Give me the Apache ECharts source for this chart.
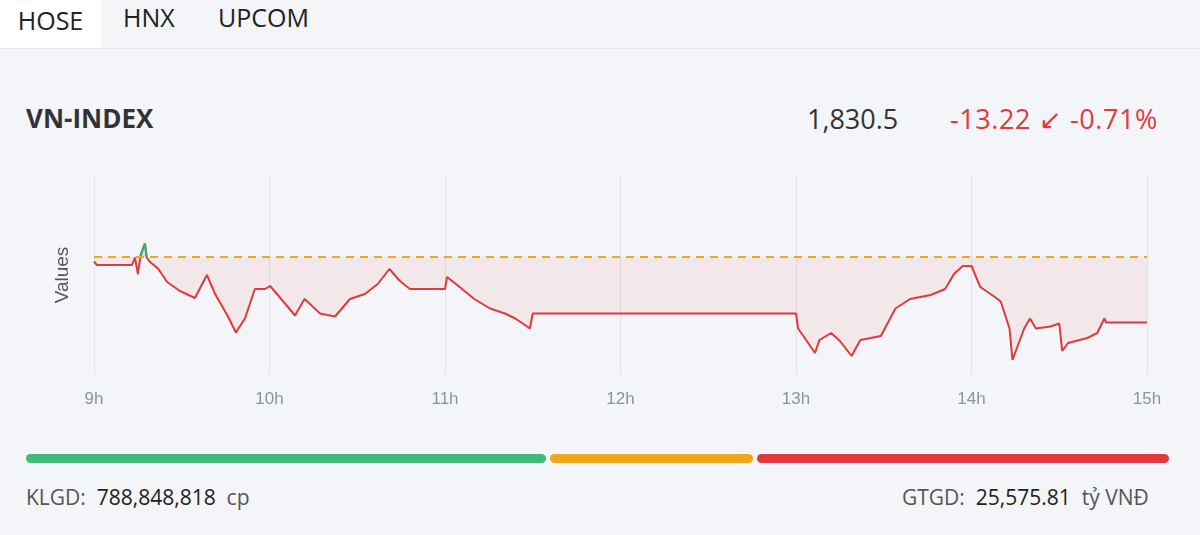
<!DOCTYPE html>
<html><head><meta charset="utf-8">
<script src="https://cdn.jsdelivr.net/npm/echarts@6/dist/echarts.min.js"></script>
<style>
body{margin:0;width:1200px;height:535px;background:#f3f5f8;font-family:"Open Sans","Noto Sans",sans-serif;position:relative;overflow:hidden}
.tabs{position:absolute;top:0;left:0;width:1200px;height:48px;border-bottom:1px solid #e2e6ec}
.tab{position:absolute;top:0;height:48px;line-height:34px;font-size:25px;color:#222}
.hose{left:0;width:101px;background:#fff;text-align:center;line-height:40px}
.title{position:absolute;left:26px;top:100px;font-size:26px;font-weight:700;color:#333}
.price{position:absolute;left:807px;top:100px;font-size:27px;color:#333}
.chg{position:absolute;left:950px;top:100px;font-size:27px;color:#e0393e;letter-spacing:0.6px}
.bar{position:absolute;top:454px;height:9px;border-radius:5px}
.foot{position:absolute;top:483px;font-size:21px;color:#555}
.foot b{font-weight:400;color:#222}
#c{position:absolute;left:0;top:150px;width:1200px;height:270px}
</style></head><body>
<div class="tabs"><div class="tab hose">HOSE</div><div class="tab" style="left:123px">HNX</div><div class="tab" style="left:218px">UPCOM</div></div>
<div class="title">VN-INDEX</div>
<div class="price">1,830.5</div>
<div class="chg">-13.22 ↙ -0.71%</div>
<div id="c"></div>
<div class="bar" style="left:26px;width:520px;background:#3dbb77"></div>
<div class="bar" style="left:550px;width:203px;background:#f0a61c"></div>
<div class="bar" style="left:757px;width:412px;background:#e0393e"></div>
<div class="foot" style="left:26px">KLGD:&nbsp; <b>788,848,818</b>&nbsp; cp</div>
<div class="foot" style="left:902px">GTGD:&nbsp; <b>25,575.81</b>&nbsp; tỷ VNĐ</div>
<script>
const refValue = 1843.72;
const minutes = [0,1,13,14,15,16,17.4,18,19,22,25,29.4,34.5,38.6,41.4,45.8,48.5,51.6,55,58.5,60.2,65.3,68.7,72,77.3,82.4,87.5,92.6,97,101,104.6,108,113,120,120.7,125,130,135.4,140.5,144,146.6,149,150,240,240.7,243,246.5,248,252,255,259,262,269,274,279,286,291,294,297,300,303,308,310,313,314,318,320,322,327,330,331,333,339.6,343,345.4,346,360];
const values = [1842.7,1842.0,1842.0,1843.5,1840.2,1844.1,1846.3,1843.5,1842.7,1841.2,1838.6,1836.8,1835.4,1840.0,1836.2,1831.7,1828.5,1831.3,1837.2,1837.2,1837.8,1834.3,1831.9,1835.2,1832.3,1831.7,1835.2,1836.2,1838.2,1841.2,1838.8,1837.2,1837.2,1837.2,1839.6,1837.6,1835.2,1833.3,1832.3,1831.3,1830.3,1829.3,1832.3,1832.3,1829.3,1827.4,1824.4,1827.0,1828.4,1826.8,1823.8,1827.0,1827.8,1833.3,1835.2,1836.0,1837.2,1840.2,1841.8,1841.8,1837.6,1835.6,1834.7,1829.3,1823.0,1829.3,1831.3,1829.3,1829.7,1830.3,1824.8,1826.4,1827.4,1828.4,1831.3,1830.5,1830.5];
const greenMinutes = [15.8,16,17.4,18];
const greenValues = [1843.72,1844.1,1846.3,1843.72];
const tickLabels = ['9h','10h','11h','12h','13h','14h','15h'];
const data = minutes.map((m,i)=>[m,values[i]]);
const gdata = greenMinutes.map((m,i)=>[m,greenValues[i]]);
const ch = echarts.init(document.getElementById('c'));
ch.setOption({
  animation:false,
  grid:{left:94,right:53,top:25,bottom:45},
  xAxis:{type:'value',min:0,max:360,interval:60,
    axisLabel:{formatter:v=>tickLabels[v/60],color:'#8a93a3',fontSize:17,margin:16},
    axisLine:{show:false},axisTick:{show:false},
    splitLine:{show:true,lineStyle:{color:'#dfe3ea'}}},
  yAxis:{type:'value',min:1820,max:1860,name:'Values',nameLocation:'middle',nameGap:22,
    nameTextStyle:{fontSize:19,color:'#555'},axisLabel:{show:false},splitLine:{show:false},
    axisLine:{show:false},axisTick:{show:false}},
  series:[
    {type:'line',data:data,symbol:'none',lineStyle:{width:2,color:'#e0393e'},
     areaStyle:{origin:refValue,color:'rgba(230,110,110,0.14)'},
     markLine:{symbol:'none',silent:true,label:{show:false},
       lineStyle:{color:'#f0a61c',type:[8,6],width:2},data:[{yAxis:refValue}]}},
    {type:'line',data:gdata,symbol:'none',lineStyle:{width:2,color:'#2fb36a'},
     areaStyle:{origin:refValue,color:'rgba(47,179,106,0.2)'}}
  ]
});
</script></body></html>
